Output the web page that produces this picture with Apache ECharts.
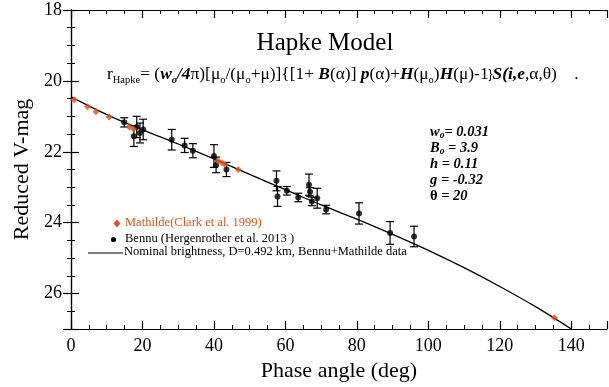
<!DOCTYPE html>
<html>
<head>
<meta charset="utf-8">
<script src="https://cdn.jsdelivr.net/npm/echarts@6/dist/echarts.min.js"></script>
<style>
  html, body { margin: 0; padding: 0; background: #fff; }
  #chart { width: 609px; height: 387px; }
</style>
</head>
<body>
<div id="chart"></div>
<script>
// model curve (Hapke fit)
const modelPhase = [0, 10, 20, 30, 40, 50, 60, 70, 80, 90, 100, 110, 120, 130, 140];
const modelMag = [20.45, 20.95, 21.38, 21.78, 22.2, 22.64, 23.07, 23.5, 23.9, 24.33, 24.78, 25.27, 25.8, 26.37, 27.0];

// Mathilde (Clark et al. 1999)
const mathPhase = [0.9, 4.6, 7.0, 10.7, 16.3, 17.5, 41.1, 42.2, 43.1, 46.8, 135.3];
const mathMag = [20.53, 20.73, 20.87, 21.02, 21.3, 21.36, 22.25, 22.31, 22.36, 22.5, 26.68];

// Bennu (Hergenrother et al. 2013)
const bennuPhase = [14.9, 17.6, 18.4, 19.3, 20.2, 28.2, 31.8, 34.1, 40.0, 40.6, 43.5, 57.5, 57.8, 60.4, 63.6, 66.6, 66.9, 67.4, 68.9, 71.4, 80.6, 89.3, 96.0];
const bennuMag = [21.17, 21.56, 21.3, 21.47, 21.37, 21.66, 21.82, 21.97, 22.12, 22.37, 22.5, 22.82, 23.26, 23.1, 23.29, 22.93, 23.13, 23.4, 23.31, 23.63, 23.74, 24.29, 24.39];
const bennuErr = [0.13, 0.29, 0.3, 0.28, 0.29, 0.29, 0.2, 0.2, 0.32, 0.22, 0.2, 0.28, 0.28, 0.12, 0.12, 0.3, 0.12, 0.12, 0.28, 0.12, 0.3, 0.32, 0.29];

const xTicks = { min: 0, max: 150, interval: 20 };
const yTicks = { min: 18, max: 27, interval: 2 };

const ORANGE = '#d9541e';
const SERIF = '"Liberation Serif", "DejaVu Serif", serif';

const chart = echarts.init(document.getElementById('chart'), null, { renderer: 'canvas' });

const tickStyle = {
    axisLine: { show: true, lineStyle: { color: '#000', width: 1.2 } },
    axisTick: { show: true, inside: true, length: 8, lineStyle: { color: '#000', width: 1.2 } },
    minorTick: { show: true, splitNumber: 4, length: 4, lineStyle: { color: '#000', width: 1 } },
    splitLine: { show: false }
};

const sub = { fontFamily: SERIF, fontSize: 10.5, verticalAlign: 'bottom', lineHeight: 22 };
const norm = { fontFamily: SERIF, fontSize: 17.4, lineHeight: 22 };
const bi = { fontFamily: SERIF, fontSize: 17.4, fontWeight: 'bold', fontStyle: 'italic', lineHeight: 22 };
const biSub = { fontFamily: SERIF, fontSize: 10.5, fontWeight: 'bold', fontStyle: 'italic', verticalAlign: 'bottom', lineHeight: 22 };

const pb = { fontFamily: SERIF, fontSize: 14.5, fontWeight: 'bold', fontStyle: 'italic', lineHeight: 16 };
const pbSub = { fontFamily: SERIF, fontSize: 9.5, fontWeight: 'bold', fontStyle: 'italic', verticalAlign: 'bottom', lineHeight: 16 };
const pn = { fontFamily: SERIF, fontSize: 14.5, fontWeight: 'bold', lineHeight: 16 };

chart.setOption({
    animation: false,
    backgroundColor: '#fff',
    grid: { left: 71, right: 2, top: 10, bottom: 55 },
    xAxis: [
        Object.assign({
            type: 'value', min: xTicks.min, max: xTicks.max, interval: xTicks.interval,
            name: 'Phase angle (deg)', nameLocation: 'middle', nameGap: 31,
            nameTextStyle: { fontFamily: SERIF, fontSize: 22, color: '#000' },
            axisLabel: { color: '#000', fontFamily: SERIF, fontSize: 18, margin: 8, showMaxLabel: false }
        }, tickStyle),
        Object.assign({
            type: 'value', position: 'top', min: xTicks.min, max: xTicks.max, interval: xTicks.interval,
            axisLabel: { show: false }
        }, tickStyle)
    ],
    yAxis: [
        Object.assign({
            type: 'value', inverse: true, min: yTicks.min, max: yTicks.max, interval: yTicks.interval,
            name: 'Reduced V-mag', nameLocation: 'middle', nameGap: 38, nameRotate: 90,
            nameTextStyle: { fontFamily: SERIF, fontSize: 22, color: '#000' },
            axisLabel: { color: '#000', fontFamily: SERIF, fontSize: 18, margin: 9, showMaxLabel: false }
        }, tickStyle),
        Object.assign({
            type: 'value', position: 'right', inverse: true, min: yTicks.min, max: yTicks.max, interval: yTicks.interval,
            axisLabel: { show: false }
        }, tickStyle)
    ],
    series: [
        {
            name: 'Nominal brightness', type: 'line',
            data: modelPhase.map((p, i) => [p, modelMag[i]]),
            showSymbol: false, smooth: 0.3,
            lineStyle: { color: '#000', width: 1.3 },
            z: 1
        },
        {
            name: 'errbars', type: 'custom',
            data: bennuPhase.map((p, i) => [p, bennuMag[i] - bennuErr[i], bennuMag[i] + bennuErr[i]]),
            renderItem: function (params, api) {
                const x = api.coord([api.value(0), api.value(1)])[0];
                const y1 = api.coord([api.value(0), api.value(1)])[1];
                const y2 = api.coord([api.value(0), api.value(2)])[1];
                const w = 4;
                const st = { stroke: '#000', lineWidth: 1.2 };
                return {
                    type: 'group',
                    children: [
                        { type: 'line', shape: { x1: x, y1: y1, x2: x, y2: y2 }, style: st },
                        { type: 'line', shape: { x1: x - w, y1: y1, x2: x + w, y2: y1 }, style: st },
                        { type: 'line', shape: { x1: x - w, y1: y2, x2: x + w, y2: y2 }, style: st }
                    ]
                };
            },
            z: 2
        },
        {
            name: 'Bennu', type: 'scatter',
            data: bennuPhase.map((p, i) => [p, bennuMag[i]]),
            symbol: 'circle', symbolSize: 6,
            itemStyle: { color: '#000' },
            z: 3
        },
        {
            name: 'Mathilde', type: 'scatter',
            data: mathPhase.map((p, i) => [p, mathMag[i]]),
            symbol: 'diamond', symbolSize: 7,
            itemStyle: { color: ORANGE },
            z: 4
        }
    ],
    graphic: [
        {
            type: 'text', x: 325, y: 43,
            style: { text: 'Hapke Model', font: '25px ' + SERIF, fill: '#000', align: 'center', verticalAlign: 'middle' }
        },
        {
            type: 'text', left: 107, top: 66,
            style: {
                text: '{n|r}{s|Hapke}{n|= (}{b|w}{bs|o}{b|/4}{n|π)[μ}{s|o}{n|/(μ}{s|o}{n|+μ)]{[1+ }{b|B}{n|(α)] }{b|p}{n|(α)+}{b|H}{n|(μ}{s|o}{n|)}{b|H}{n|(μ)-1}}{b|S(i,e}{n|,α,θ)    .}',
                rich: { n: norm, s: sub, b: bi, bs: biSub },
                fill: '#000'
            }
        },
        {
            type: 'text', left: 430, top: 125,
            style: {
                text: '{b|w}{bs|o}{b|= 0.031}\n{b|B}{bs|o}{b| = 3.9}\n{b|h = 0.11}\n{b|g = -0.32}\n{n|θ}{b| = 20}',
                rich: { b: pb, bs: pbSub, n: pn },
                fill: '#000'
            }
        },
        // legend
        {
            type: 'polygon', shape: { points: [[117, 219.5], [120.5, 223.5], [117, 227.5], [113.5, 223.5]] },
            style: { fill: ORANGE }
        },
        {
            type: 'text', left: 125, top: 216,
            style: { text: 'Mathilde(Clark et al. 1999)', font: '12.5px ' + SERIF, fill: ORANGE }
        },
        {
            type: 'circle', shape: { cx: 113.5, cy: 239.5, r: 2.6 }, style: { fill: '#000' }
        },
        {
            type: 'text', left: 125, top: 232,
            style: { text: 'Bennu (Hergenrother et al. 2013 )', font: '12.5px ' + SERIF, fill: '#000' }
        },
        {
            type: 'line', shape: { x1: 88, y1: 253, x2: 123, y2: 253 }, style: { stroke: '#000', lineWidth: 1.2 }
        },
        {
            type: 'text', left: 124, top: 245,
            style: { text: 'Nominal brightness, D=0.492 km, Bennu+Mathilde data', font: '12.5px ' + SERIF, fill: '#000' }
        }
    ]
});
</script>
</body>
</html>
